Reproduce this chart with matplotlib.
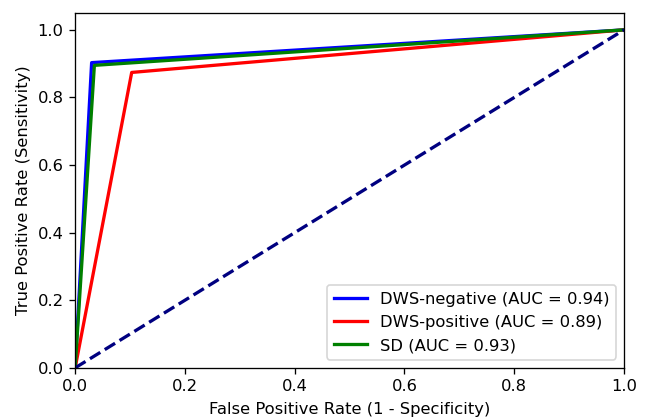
import matplotlib
matplotlib.use("Agg")
import matplotlib.pyplot as plt

# ROC points
fpr_neg = [0.0, 0.030, 1.0]
tpr_neg = [0.0, 0.903, 1.0]
fpr_pos = [0.0, 0.103, 1.0]
tpr_pos = [0.0, 0.874, 1.0]
fpr_sd = [0.0, 0.035, 1.0]
tpr_sd = [0.0, 0.895, 1.0]

labels = ["DWS-negative (AUC = 0.94)", "DWS-positive (AUC = 0.89)", "SD (AUC = 0.93)"]

# reference looks like a default figure rendered at a bit above 100 dpi
dpi = 118
fig = plt.figure(figsize=(648 / dpi, 418 / dpi), dpi=dpi)
ax = fig.add_axes([0.116, 0.12, 0.847, 0.849])

ax.plot(fpr_neg, tpr_neg, color="blue", lw=2, label=labels[0])
ax.plot(fpr_pos, tpr_pos, color="red", lw=2, label=labels[1])
ax.plot(fpr_sd, tpr_sd, color="green", lw=2, label=labels[2])
ax.plot([0, 1], [0, 1], color="navy", lw=2, linestyle="--")

ax.set_xlim([0.0, 1.0])
ax.set_ylim([0.0, 1.05])
ax.set_xlabel("False Positive Rate (1 - Specificity)", labelpad=4.5)
ax.set_ylabel("True Positive Rate (Sensitivity)")
ax.legend(loc="lower right")

fig.savefig("out.png", dpi=dpi)
